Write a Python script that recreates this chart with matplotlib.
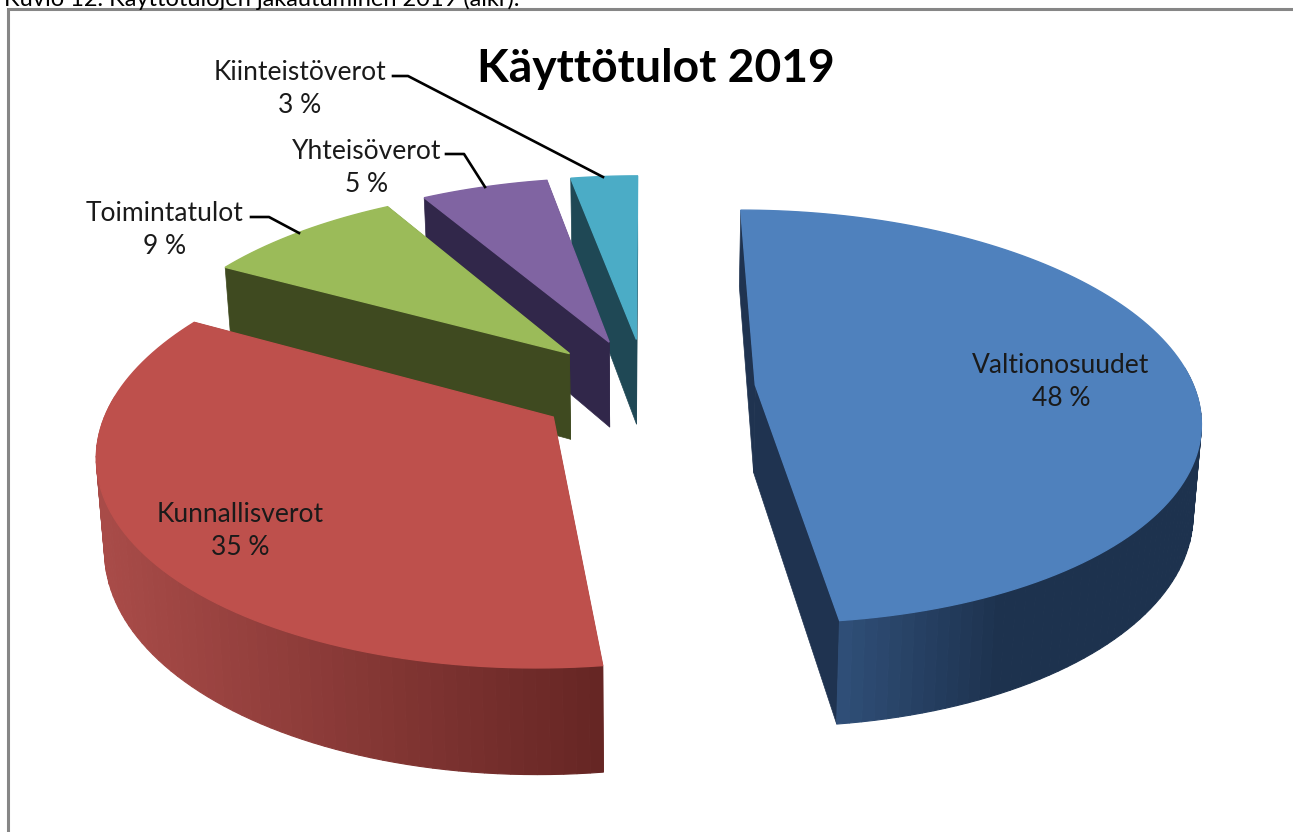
import math
import matplotlib
matplotlib.use("Agg")
import matplotlib.pyplot as plt
from matplotlib.patches import Polygon
from matplotlib.colors import to_rgb

plt.rcParams["font.family"] = ["Lato", "DejaVu Sans"]

# shares (labels show the rounded figures)
names = ["Valtionosuudet", "Kunnallisverot", "Toimintatulot", "Yhteisöverot", "Kiinteistöverot"]
shares = [48.0, 35.0, 8.6, 5.5, 2.9]
pct_labels = ["48 %", "35 %", "9 %", "5 %", "3 %"]
tops = ["#4F81BD", "#BE504C", "#9BBB59", "#8064A2", "#4BACC6"]
faces = ["#1F3350", "#7A3330", "#3F4A20", "#31274A", "#1F4855"]
wall_left = ["#2F4E77", "#A84B48", "#3F4A20", "#31274A", "#1F4855"]
wall_right = ["#1D324E", "#652523", "#3F4A20", "#31274A", "#1F4855"]
wall_span = [(845, 1000), (105, 607), (0, 1), (0, 1), (0, 1)]

title = "Käyttötulot 2019"
caption = "Kuvio 12. Käyttötulojen jakautuminen 2019 (alkr)."

# perspective of the pie plane, fitted by eye to the picture
X0, A = 646, 439
YV, H, C = -930, 1318, 0.1536
DEPTH, SHRINK = 88, 0.985
EXPLODE = 0.25

def project(u, v):
    w = 1 + C * v
    return X0 + A * u / w, YV + H / w

def drop(u, v):
    x, y = project(u, v)
    w = 1 + C * v
    return X0 + (x - X0) * SHRINK, y + DEPTH / w

def mix(c1, c2, t):
    t = min(max(t, 0), 1)
    a, b = to_rgb(c1), to_rgb(c2)
    return tuple(a[i] + (b[i] - a[i]) * t for i in range(3))

fig = plt.figure(figsize=(12.93, 8.32), dpi=100)
ax = fig.add_axes([0, 0, 1, 1])
ax.set_xlim(0, 1293)
ax.set_ylim(832, 0)
ax.axis("off")

# work out each slice's angular range
total = sum(shares)
angles = []
start = 0.0
for s in shares:
    end = start + s / total * 2 * math.pi
    angles.append((start, end))
    start = end

# far slices first, near ones paint over them
for i in [4, 3, 2, 1, 0]:
    a0, a1 = angles[i]
    mid = (a0 + a1) / 2
    cu, cv = EXPLODE * math.sin(mid), EXPLODE * math.cos(mid)
    n = max(8, int((a1 - a0) * 40))
    rim = []
    for k in range(n + 1):
        t = a0 + (a1 - a0) * k / n
        rim.append((cu + math.sin(t), cv + math.cos(t)))

    # the two cut faces go under the rim wall
    for p in (rim[0], rim[-1]):
        pts = [project(cu, cv), project(*p), drop(*p), drop(cu, cv)]
        ax.add_patch(Polygon(pts, closed=True, fc=faces[i], ec=faces[i], lw=0.5, zorder=i * -10 + 50))

    # outer wall, one facet at a time for the shading (back side is hidden anyway)
    lo, hi = wall_span[i]
    for k in range(n):
        t = a0 + (a1 - a0) * (k + 0.5) / n
        if math.cos(t) > 0.1:
            continue
        p, q = rim[k], rim[k + 1]
        pts = [project(*p), project(*q), drop(*q), drop(*p)]
        xm = (pts[0][0] + pts[1][0]) / 2
        col = mix(wall_left[i], wall_right[i], (xm - lo) / (hi - lo))
        ax.add_patch(Polygon(pts, closed=True, fc=col, ec=col, lw=0.8, zorder=i * -10 + 51))

    top = [project(cu, cv)] + [project(*p) for p in rim]
    ax.add_patch(Polygon(top, closed=True, fc=tops[i], ec=tops[i], lw=1, zorder=i * -10 + 52))

# chart frame
ax.plot([8, 8, 1293], [832, 9, 9], color="#868686", lw=2.2, solid_joinstyle="miter", zorder=60)

# leader lines
ax.plot([393, 408, 603], [76, 76, 177], color="black", lw=1.9, zorder=61)
ax.plot([446, 464, 485], [154, 154, 187], color="black", lw=1.9, zorder=61)
ax.plot([251, 269, 299], [217, 217, 233], color="black", lw=1.9, zorder=61)

label_pos = [(1061, 382), (240, 531), (165, 230), (367, 168), (300, 89)]
for name, pct, (x, y) in zip(names, pct_labels, label_pos):
    ax.text(x, y, name + "\n" + pct, ha="center", va="center", fontsize=19,
            color="#1A1A1A", linespacing=1.42, zorder=70)

ax.text(656, 68.5, title, ha="center", va="center", fontsize=33.3, fontweight="bold",
        color="black", zorder=70)
ax.text(4, 6, caption, ha="left", va="baseline", fontsize=17, color="black", zorder=70)

fig.savefig("out.png", dpi=100)
